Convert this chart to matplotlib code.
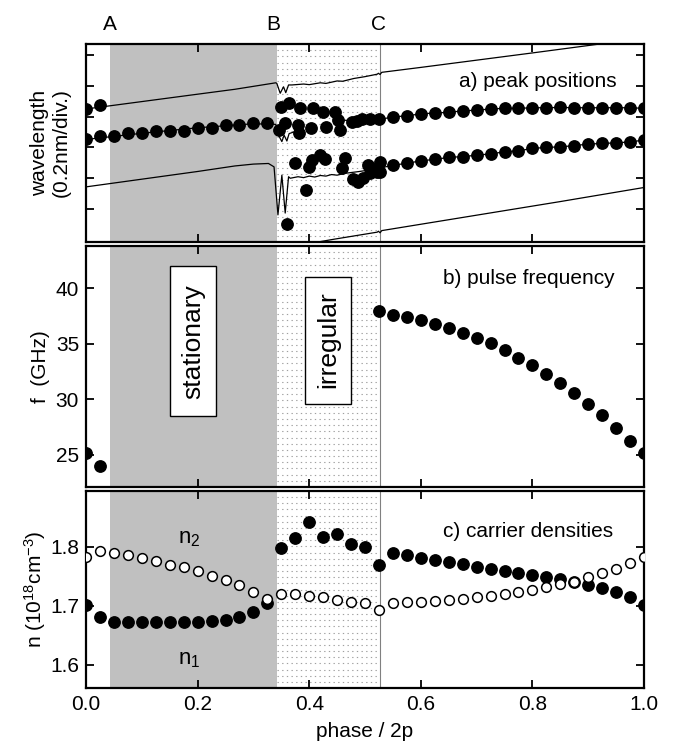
import numpy as np
import matplotlib.pyplot as plt
from matplotlib.patches import Rectangle

plt.rcParams['font.family'] = ['Liberation Sans', 'DejaVu Sans']
plt.rcParams['mathtext.fontset'] = 'custom'
plt.rcParams['mathtext.rm'] = 'Liberation Sans'
plt.rcParams['mathtext.it'] = 'Liberation Sans'

# ---- data ----
phase = [0.0, 0.025, 0.05, 0.075, 0.1, 0.125, 0.15, 0.175, 0.2, 0.225,
         0.25, 0.275, 0.3, 0.325, 0.35, 0.375, 0.4, 0.425, 0.45, 0.475,
         0.5, 0.525, 0.55, 0.575, 0.6, 0.625, 0.65, 0.675, 0.7, 0.725,
         0.75, 0.775, 0.8, 0.825, 0.85, 0.875, 0.9, 0.925, 0.95, 0.975, 1.0]

# region borders A, B, C
A, B, C = 0.043, 0.342, 0.526

# a) peak positions (units of 0.2 nm divisions)
row_low_phase = phase[:14]
row_low = [3.26, 3.37, 3.37, 3.46, 3.46, 3.54, 3.54, 3.54, 3.64, 3.64, 3.73, 3.73, 3.80, 3.81]
row_high_phase = phase[:2]
row_high = [4.24, 4.38]
irr_phase = [0.350, 0.364, 0.384, 0.407, 0.425, 0.446, 0.452, 0.476, 0.485, 0.494, 0.509,
             0.345, 0.357, 0.380, 0.382, 0.404, 0.431, 0.455,
             0.375, 0.394, 0.400, 0.405, 0.419, 0.428, 0.458, 0.464, 0.479, 0.488,
             0.496, 0.506, 0.509, 0.516, 0.521, 0.527, 0.527, 0.360]
irr_u = [4.32, 4.43, 4.27, 4.27, 4.16, 4.16, 3.89, 3.83, 3.87, 3.91, 3.91,
         3.56, 3.78, 3.73, 3.46, 3.62, 3.66, 3.58,
         2.50, 1.62, 2.37, 2.59, 2.75, 2.62, 2.32, 2.65, 1.97, 1.87,
         2.00, 2.43, 2.18, 2.30, 2.21, 2.54, 2.20, 0.51]
upper_c_phase = phase[21:]
upper_c = [3.91, 3.99, 4.03, 4.09, 4.12, 4.14, 4.19, 4.21, 4.25, 4.27,
           4.27, 4.29, 4.29, 4.30, 4.29, 4.29, 4.29, 4.29, 4.29, 4.27]
lower_c_phase = phase[22:]
lower_c = [2.43, 2.48, 2.57, 2.61, 2.68, 2.70, 2.75, 2.79, 2.86, 2.89,
           2.97, 3.00, 3.02, 3.06, 3.11, 3.13, 3.15, 3.18, 3.24]

# thin spectral traces
line1_phase = [0.0, 0.10, 0.20, 0.267, 0.340, 0.342, 0.348, 0.354, 0.358, 0.363, 0.369,
               0.39, 0.40, 0.42, 0.43, 0.45, 0.46, 0.48, 0.50, 0.522, 0.524, 0.527, 0.530,
               0.60, 0.80, 1.0]
line1_u = [4.25, 4.49, 4.73, 4.89, 5.10, 5.08, 4.76, 4.97, 4.78, 5.03, 5.03,
           5.06, 5.04, 5.10, 5.08, 5.16, 5.15, 5.24, 5.30, 5.38, 5.41, 5.37, 5.44,
           5.60, 6.07, 6.55]
line2_phase = [0.0, 0.10, 0.20, 0.267, 0.30, 0.327, 0.337, 0.344, 0.351, 0.357, 0.363,
               0.366, 0.38, 0.39, 0.40, 0.41, 0.42, 0.43, 0.44, 0.45, 0.464, 0.49, 0.526,
               0.55, 0.575, 0.6, 0.625, 0.65, 0.675, 0.7, 0.725, 0.75, 0.775, 0.8,
               0.825, 0.85, 0.875, 0.9, 0.925, 0.95, 0.975, 1.0]
line2_u = [1.72, 1.97, 2.22, 2.40, 2.46, 2.48, 2.37, 0.81, 2.10, 0.87, 2.05,
           2.00, 2.05, 2.02, 2.07, 2.04, 2.09, 2.07, 2.12, 2.10, 2.16, 2.22, 2.32,
           2.43, 2.48, 2.57, 2.61, 2.68, 2.70, 2.75, 2.79, 2.86, 2.89, 2.97,
           3.00, 3.02, 3.06, 3.11, 3.13, 3.15, 3.18, 3.24]
line3_phase = [0.40, 0.443, 0.522, 0.524, 0.527, 0.530, 0.849, 1.0]
line3_u = [-0.12, 0.016, 0.25, 0.28, 0.23, 0.30, 1.24, 1.70]
line4_phase = [0.0, 0.1, 0.2, 0.3, 0.340, 0.345, 0.351, 0.355, 0.360, 0.364, 0.372]
line4_u = [3.26, 3.46, 3.64, 3.77, 3.75, 3.40, 3.19, 3.40, 3.21, 3.45, 3.50]
line5_phase = [0.45, 0.47, 0.50, 0.526] + upper_c_phase[1:]
line5_u = [3.89, 3.88, 3.90, 3.91] + upper_c[1:]

# b) pulse frequency (GHz)
freq_phase = [0.0, 0.025] + phase[21:]
freq = [25.15, 24.0,
        37.97, 37.58, 37.37, 37.16, 36.77, 36.46, 35.95, 35.50, 35.05, 34.41,
        33.75, 33.05, 32.30, 31.42, 30.55, 29.58, 28.55, 27.41, 26.26, 25.14]

# c) carrier densities (1e18 cm^-3)
n1 = [1.702, 1.681, 1.672, 1.672, 1.672, 1.672, 1.672, 1.672, 1.672, 1.674,
      1.676, 1.681, 1.689, 1.704, 1.798, 1.815, 1.841, 1.817, 1.821, 1.804,
      1.799, 1.769, 1.789, 1.785, 1.781, 1.777, 1.774, 1.770, 1.766, 1.762,
      1.759, 1.755, 1.752, 1.749, 1.745, 1.741, 1.735, 1.730, 1.724, 1.714, 1.702]
n2 = [1.783, 1.792, 1.789, 1.785, 1.780, 1.775, 1.769, 1.765, 1.758, 1.751,
      1.744, 1.735, 1.724, 1.712, 1.720, 1.720, 1.717, 1.714, 1.710, 1.707,
      1.704, 1.693, 1.704, 1.706, 1.707, 1.708, 1.710, 1.712, 1.714, 1.716,
      1.720, 1.723, 1.727, 1.731, 1.736, 1.741, 1.748, 1.755, 1.762, 1.772, 1.783]

# ---- figure ----
fig = plt.figure(figsize=(6.73, 7.51), dpi=100)
W, H = 673, 751
left, width = 86 / W, 558 / W
ax1 = fig.add_axes([left, 1 - 242 / H, width, 198 / H])
ax2 = fig.add_axes([left, 1 - 487 / H, width, 241 / H])
ax3 = fig.add_axes([left, 1 - 688 / H, width, 197 / H])

for ax in (ax1, ax2, ax3):
    ax.set_xlim(0, 1)
    ax.axvspan(A, B, color='#c0c0c0', lw=0, zorder=0)
    ax.axvline(C, color='#808080', lw=0.8, zorder=0.5)
    # dotted background of the irregular region
    hpx = ax.get_position().height * H
    nrows = int(hpx / 6.2)
    tr = ax.get_xaxis_transform()
    for yy in np.linspace(0, 1, nrows + 2)[1:-1]:
        ax.plot([B, C], [yy, yy], transform=tr, color='#a0a0a0', lw=0.8,
                ls=(0, (1.2, 3.0)), zorder=0.3)
    ax.set_xticks([0.0, 0.2, 0.4, 0.6, 0.8, 1.0])
    ax.tick_params(direction='in', top=True, right=True, length=5.5, width=1.3,
                   labelsize=15, pad=5)
    for s in ax.spines.values():
        s.set_linewidth(1.6)

dot = dict(ls='none', marker='o', color='black', ms=8.2, zorder=3)

# a)
for xs, ys in [(line1_phase, line1_u), (line2_phase, line2_u), (line3_phase, line3_u),
               (line4_phase, line4_u), (line5_phase, line5_u)]:
    ax1.plot(xs, ys, color='black', lw=0.9, zorder=2)
ax1.plot(row_low_phase, row_low, **dot)
ax1.plot(row_high_phase, row_high, **dot)
ax1.plot(irr_phase, irr_u, **dot)
ax1.plot(upper_c_phase, upper_c, **dot)
ax1.plot(lower_c_phase, lower_c, **dot)
ax1.set_ylim(-0.07, 6.36)
ax1.set_yticks([1, 2, 3, 4, 5, 6])
ax1.tick_params(labelleft=False, labelbottom=False)
ax1.set_ylabel('wavelength\n(0.2nm/div.)', fontsize=15, linespacing=1.15)
ax1.yaxis.set_label_coords(-0.028, 0.5)
ax1.text(0.951, 5.13, 'a) peak positions', ha='right', va='center', fontsize=15)
btr = ax1.get_xaxis_transform()
for xpos, lab in [(A, 'A'), (0.336, 'B'), (0.524, 'C')]:
    ax1.text(xpos, 1.096, lab, transform=btr, ha='center', va='center', fontsize=15)

# b)
ax2.plot(freq_phase, freq, **dot)
ax2.set_ylim(22.1, 43.8)
ax2.set_yticks([25, 30, 35, 40])
ax2.tick_params(labelbottom=False)
ax2.set_ylabel('f  (GHz)', fontsize=15)
ax2.yaxis.set_label_coords(-0.065, 0.5)
ax2.text(0.947, 40.84, 'b) pulse frequency', ha='right', va='center', fontsize=15)
ax2.add_patch(Rectangle((0.151, 28.46), 0.082, 13.5, fc='white', ec='black', lw=1.0, zorder=4))
ax2.text(0.192, 35.2, 'stationary', rotation=90, ha='center', va='center', fontsize=19, zorder=5)
ax2.add_patch(Rectangle((0.393, 29.61), 0.082, 11.44, fc='white', ec='black', lw=1.0, zorder=4))
ax2.text(0.434, 35.33, 'irregular', rotation=90, ha='center', va='center', fontsize=19, zorder=5)

# c)
ax3.plot(phase, n1, **dot)
ax3.plot(phase, n2, ls='none', marker='o', mfc='white', mec='black', mew=1.1, ms=7, zorder=3)
ax3.set_ylim(1.561, 1.894)
ax3.set_yticks([1.6, 1.7, 1.8])
ax3.set_yticklabels(['1.6', '1.7', '1.8'])
ax3.set_xticklabels(['0.0', '0.2', '0.4', '0.6', '0.8', '1.0'])
ax3.set_ylabel(r'n (10$^{18}$cm$^{-3}$)', fontsize=15)
ax3.yaxis.set_label_coords(-0.068, 0.5)
ax3.set_xlabel('phase / 2p', fontsize=15, labelpad=6)
ax3.text(0.944, 1.825, 'c) carrier densities', ha='right', va='center', fontsize=15)
ax3.text(0.185, 1.814, r'n$_2$', ha='center', va='center', fontsize=16)
ax3.text(0.185, 1.609, r'n$_1$', ha='center', va='center', fontsize=16)

fig.savefig('out.png', dpi=100)
